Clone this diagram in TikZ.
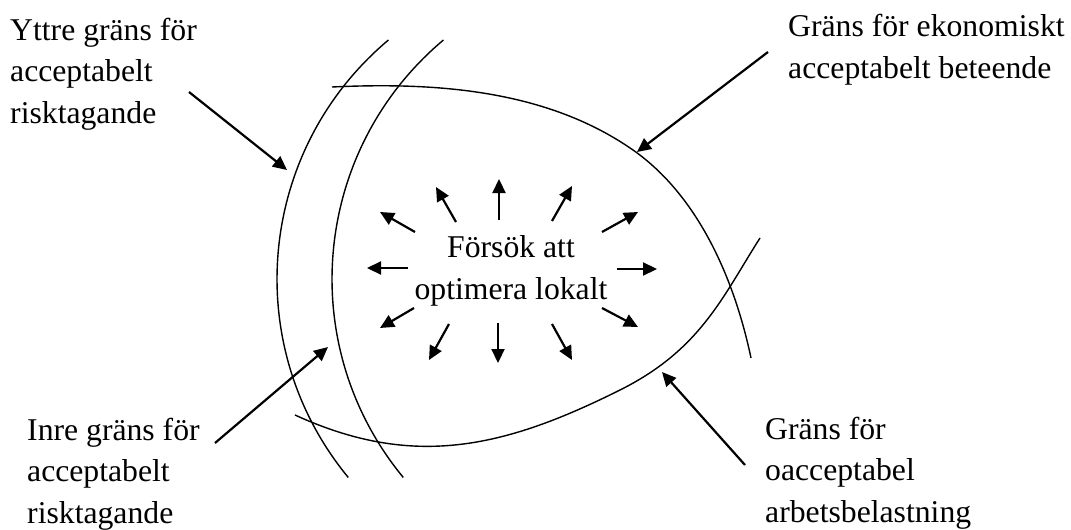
\documentclass[tikz,border=0pt]{standalone}
\usepackage{fontspec}
\setmainfont{Liberation Serif}
\usepackage{tikz}
\usetikzlibrary{arrows.meta}

\begin{document}
\begin{tikzpicture}[x=1pt,y=-1pt]
\tikzstyle{every node}=[inner sep=0pt,align=left,font=\fontsize{31.7}{41.5}\selectfont];
\tikzstyle{grans}=[line width=1.4pt];
\tikzstyle{pil}=[line width=2.2pt,-{Triangle[length=14pt,width=13pt]}];
\useasboundingbox (0,0) rectangle (1071,530);
\path (10,123) node[anchor=base west] (yttre) {Yttre gräns för\\acceptabelt\\risktagande};
\path (788,78) node[anchor=base west] (ekonomi) {Gräns för ekonomiskt\\acceptabelt beteende};
\path (27,523) node[anchor=base west] (inre) {Inre gräns för\\acceptabelt\\risktagande};
\path (765,522) node[anchor=base west] (arbete) {Gräns för\\oacceptabel\\arbetsbelastning};
\path (511,299) node[anchor=base,align=center] (mitt) {Försök att\\optimera lokalt};
\coordinate (cA) at (589,279);
\coordinate (cB) at (644,279);
\draw[grans] (cA) ++(130:312pt) arc[start angle=130,end angle=219.5,radius=312pt];
\draw[grans] (cB) ++(130:312pt) arc[start angle=130,end angle=219.5,radius=312pt];
\draw[grans] (332,87) .. controls (437,82) and (547,90) .. (633,150)
  .. controls (698.5,195.8) and (734.5,279.7) .. (751,358);
\draw[grans] (295,415) .. controls (413.2,469.2) and (503.8,448.1) .. (620,390)
  .. controls (700.5,349.8) and (722.4,297) .. (760,238);
\coordinate (yttrefot) at (189,92);
\coordinate (yttrespets) at (287,170);
\coordinate (ekonomifot) at (768,52);
\coordinate (ekonomispets) at (637,152);
\coordinate (inrefot) at (215,443);
\coordinate (inrespets) at (328,347);
\coordinate (arbetefot) at (745,465);
\coordinate (arbetespets) at (662,372);
\draw[pil] (yttrefot) -- (yttrespets);
\draw[pil] (ekonomifot) -- (ekonomispets);
\draw[pil] (inrefot) -- (inrespets);
\draw[pil] (arbetefot) -- (arbetespets);
\foreach \a/\b/\c/\d in {-96/-67/-131/-87, -55/-77/-75/-112, -12/-79/-12/-120, 41/-78/61/-113,
  91/-67/127/-87, 106/-30/146/-30, 91/9/127/28, 41/25/61/61,
  -13/24/-13/64, -62/25/-82/61, -97/9/-131/29, -103/-31/-144/-31}
  \draw[pil] ([shift={(\a,\b)}]mitt.base) -- ([shift={(\c,\d)}]mitt.base);
\end{tikzpicture}
\end{document}
